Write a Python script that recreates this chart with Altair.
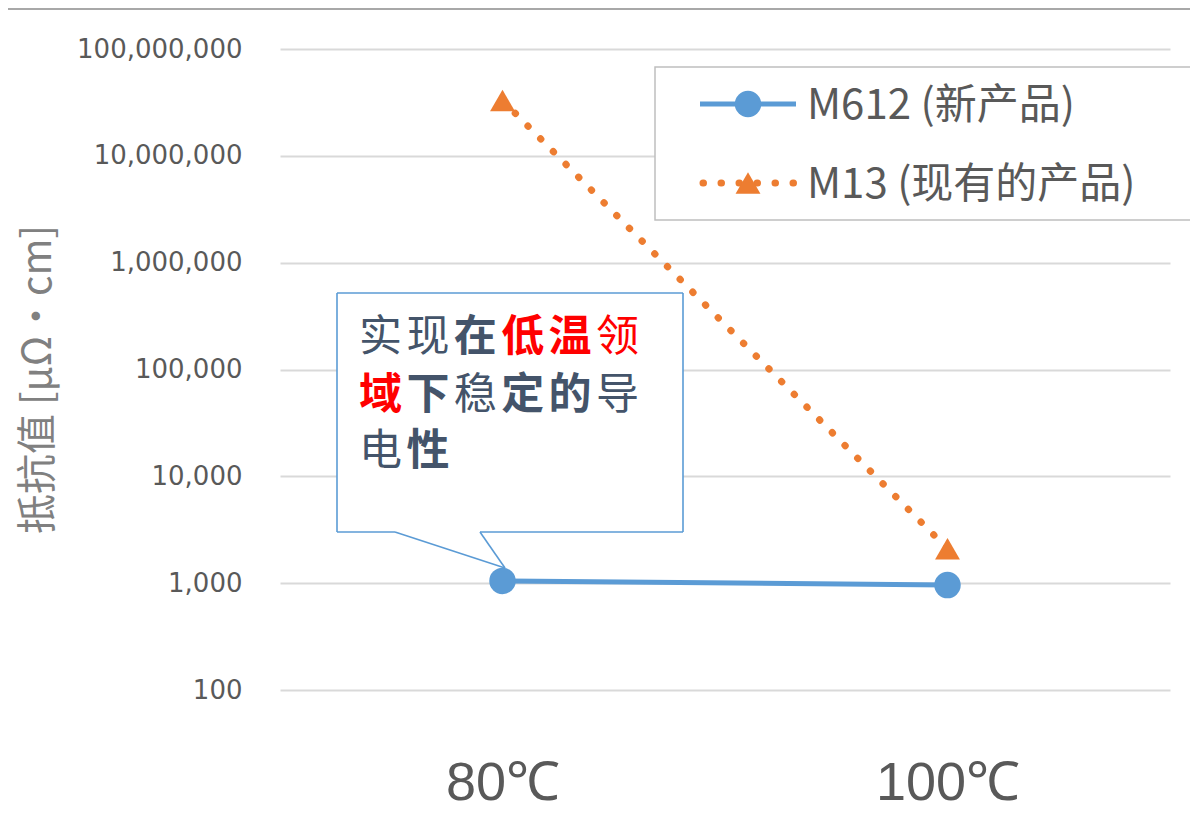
import altair as alt
import pandas as pd

# ---------------- data ----------------
temps = ["80℃", "100℃"]
m612_values = [1050, 960]
m13_values = [33000000, 2100]
series_names = ["M612 (新产品)", "M13 (现有的产品)"]
y_ticks = [100, 1000, 10000, 100000, 1000000, 10000000, 100000000]
y_title = "抵抗值 [μΩ·cm]"
callout_lines = [
    [("实", "normal", "dark"), ("现", "normal", "dark"), ("在", "bold", "dark"),
     ("低", "bold", "red"), ("温", "bold", "red"), ("领", "normal", "red")],
    [("域", "bold", "red"), ("下", "bold", "dark"), ("稳", "normal", "dark"),
     ("定", "bold", "dark"), ("的", "bold", "dark"), ("导", "normal", "dark")],
    [("电", "normal", "dark"), ("性", "bold", "dark")],
]

df = pd.DataFrame({
    "temp": temps * 2,
    "value": m612_values + m13_values,
    "series": [series_names[0]] * 2 + [series_names[1]] * 2,
})

# ---------------- style ----------------
W, H = 890, 641
BLUE = "#5B9BD5"
ORANGE = "#ED7D31"
GRID = "#D9D9D9"
LABEL = "#595959"
DARK = "#44546A"
RED = "#FF0000"
CJK = "Noto Sans CJK SC"
COLORS = {"dark": DARK, "red": RED}
one = alt.Data(values=[{}])

base = alt.Chart(df).encode(
    x=alt.X("temp:N", sort=temps,
            scale=alt.Scale(type="point", padding=0.5),
            axis=alt.Axis(title=None, labelFontSize=54, labelFont="Liberation Sans",
                          labelColor=LABEL, labelPadding=66, ticks=False,
                          domain=False, grid=False, labelAngle=0)),
    y=alt.Y("value:Q",
            scale=alt.Scale(type="log", domain=[100, 1e8], nice=False),
            axis=alt.Axis(values=y_ticks, format=",", title=y_title,
                          labelFont="DejaVu Sans", labelFontSize=26, labelColor=LABEL,
                          labelPadding=38, ticks=False, domain=False,
                          grid=True, gridColor=GRID, gridWidth=2,
                          titleFont=CJK, titleFontSize=40, titleFontWeight="normal",
                          titleColor="#808080", titleAngle=270, titleAlign="center",
                          titleBaseline="middle", titleX=-242, titleY=330)),
)

m612 = base.transform_filter(alt.datum.series == series_names[0])
m13 = base.transform_filter(alt.datum.series == series_names[1])

m13_line = m13.mark_line(color=ORANGE, strokeWidth=7, strokeDash=[0.5, 17.5], strokeCap="round")
m13_pts = m13.mark_point(shape="triangle-up", filled=True, size=620, color=ORANGE, opacity=1)
m612_line = m612.mark_line(color=BLUE, strokeWidth=5)
m612_pts = m612.mark_point(shape="circle", filled=True, size=700, color=BLUE, opacity=1)

layers = [m13_line, m13_pts, m612_line, m612_pts]

# top strip
layers.append(alt.Chart(one).mark_rule(color="#A8A8A8", strokeWidth=2).encode(
    x=alt.value(-272), x2=alt.value(925), y=alt.value(-40)))

# ---------------- legend ----------------
layers.append(alt.Chart(one).mark_rect(fill="white", stroke="#BFBFBF", strokeWidth=1.5).encode(
    x=alt.value(375), x2=alt.value(912), y=alt.value(18), y2=alt.value(171)))
leg_rows = [55, 134]
layers.append(alt.Chart(one).mark_rule(color=BLUE, strokeWidth=5).encode(
    x=alt.value(420), x2=alt.value(516), y=alt.value(leg_rows[0])))
layers.append(alt.Chart(one).mark_point(shape="circle", filled=True, size=700, color=BLUE, opacity=1).encode(
    x=alt.value(468), y=alt.value(leg_rows[0])))
layers.append(alt.Chart(one).mark_rule(color=ORANGE, strokeWidth=7, strokeDash=[0.5, 17.5], strokeCap="round").encode(
    x=alt.value(423), x2=alt.value(516), y=alt.value(leg_rows[1])))
layers.append(alt.Chart(one).mark_point(shape="triangle-up", filled=True, size=620, color=ORANGE, opacity=1).encode(
    x=alt.value(468), y=alt.value(leg_rows[1])))
for name, ry in zip(series_names, leg_rows):
    layers.append(alt.Chart(one).mark_text(
        text=name, align="left", baseline="middle", font=CJK, fontSize=42, color=LABEL
    ).encode(x=alt.value(527), y=alt.value(ry + 2)))

# ---------------- callout ----------------
bx0, by0, bx1, by1 = 57, 244, 403, 483
tl, tr, tipx, tipy = 115, 200, 225, 519
layers.append(alt.Chart(one).mark_rect(fill="white", strokeWidth=0).encode(
    x=alt.value(bx0), x2=alt.value(bx1), y=alt.value(by0), y2=alt.value(by1)))
segs = [
    (bx0, by0, bx1, by0), (bx0, by0, bx0, by1), (bx1, by0, bx1, by1),
    (bx0, by1, tl, by1), (tr, by1, bx1, by1),
    (tl, by1, tipx, tipy), (tr, by1, tipx, tipy),
]
for (a, b, c, d) in segs:
    layers.append(alt.Chart(one).mark_rule(color=BLUE, strokeWidth=1.6).encode(
        x=alt.value(a), y=alt.value(b), x2=alt.value(c), y2=alt.value(d)))

line_y = [289, 347, 403]
for li, line in enumerate(callout_lines):
    for ci, (ch, wt, col) in enumerate(line):
        layers.append(alt.Chart(one).mark_text(
            text=ch, align="left", baseline="middle", font=CJK, fontSize=43,
            fontWeight=wt, color=COLORS[col]
        ).encode(x=alt.value(79 + ci * 47.4), y=alt.value(line_y[li])))

chart = alt.layer(*layers).properties(
    width=W, height=H,
    autosize=alt.AutoSizeParams(type="none"),
    padding={"left": 272, "top": 41, "right": 20, "bottom": 130},
).configure_view(stroke=None)

chart.save("out.html", embed_options={"renderer": "svg", "actions": False})
